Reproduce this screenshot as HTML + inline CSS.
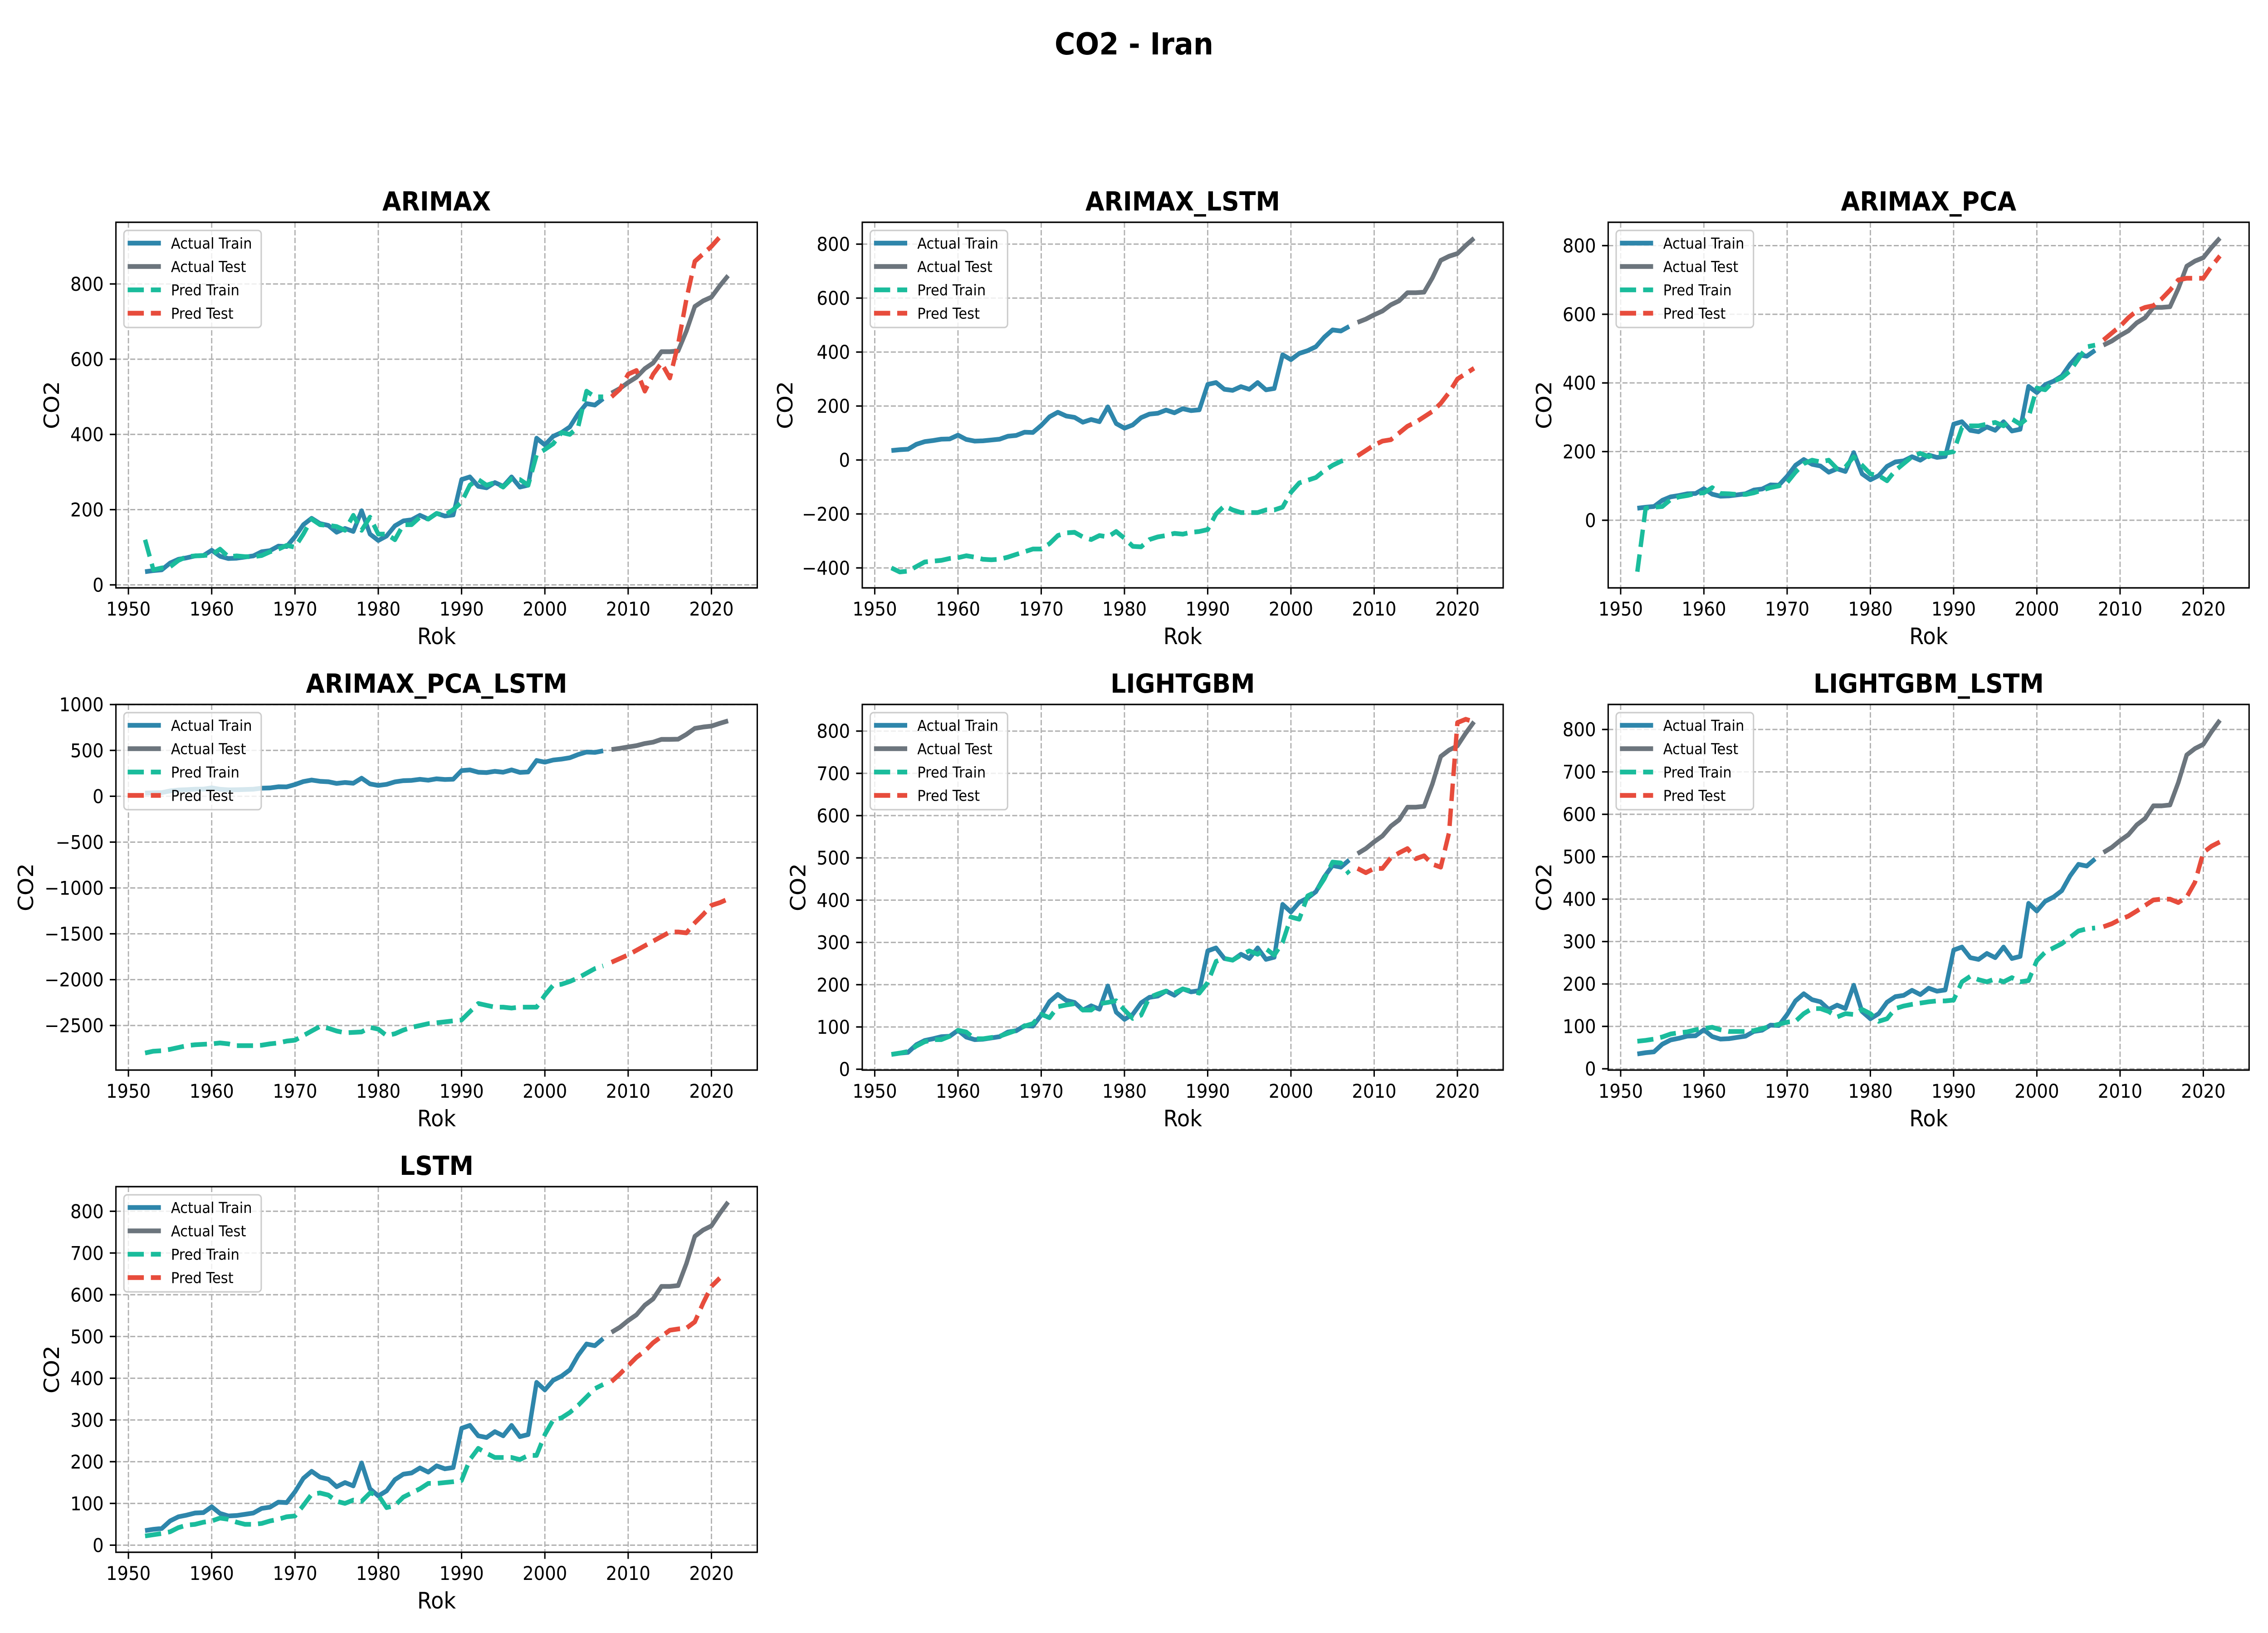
<!DOCTYPE html>
<html><head><meta charset="utf-8"><title>CO2 - Iran</title>
<style>html,body{margin:0;padding:0;background:#fff;width:100%;height:100%;overflow:hidden}svg{display:block;width:100vw;height:100vh;position:absolute;left:0;top:0}text{font-family:"DejaVu Sans","Liberation Sans",sans-serif}</style>
</head><body>
<svg id="fig" xmlns="http://www.w3.org/2000/svg" viewBox="0 0 5400 3600" preserveAspectRatio="none">
<rect width="5400" height="3600" fill="#fff"/>
<text x="2700" y="120" text-anchor="middle" font-size="67" font-weight="bold">CO2 - Iran</text>
</svg>
<script>
const trainYears = [1952,1953,1954,1955,1956,1957,1958,1959,1960,1961,1962,1963,1964,1965,1966,1967,1968,1969,1970,1971,1972,1973,1974,1975,1976,1977,1978,1979,1980,1981,1982,1983,1984,1985,1986,1987,1988,1989,1990,1991,1992,1993,1994,1995,1996,1997,1998,1999,2000,2001,2002,2003,2004,2005,2006,2007];
const testYears = [2008,2009,2010,2011,2012,2013,2014,2015,2016,2017,2018,2019,2020,2021,2022];
const actualTrain = [35,38,40,58,68,72,77,78,92,76,70,71,74,77,88,91,103,102,128,160,177,163,158,140,150,142,197,135,118,130,157,170,173,185,175,190,183,186,280,287,262,258,272,262,287,260,265,390,372,395,405,420,455,482,478,495];
const actualTest = [510,522,538,552,575,590,620,620,622,675,740,755,765,795,822];
const xTicks = [1950,1960,1970,1980,1990,2000,2010,2020];
const modelNames = ["ARIMAX","ARIMAX_LSTM","ARIMAX_PCA","ARIMAX_PCA_LSTM","LIGHTGBM","LIGHTGBM_LSTM","LSTM"];
const predTrainARIMAX = [120,40,45,48,65,75,77,78,80,95,75,77,75,75,78,88,95,105,100,135,175,160,158,155,145,185,145,180,135,135,120,160,160,180,175,190,185,200,220,265,280,265,272,260,282,280,265,345,360,375,405,400,420,515,500,500];
const predTestARIMAX = [500,520,560,570,515,560,590,550,640,760,860,880,900,925];
const predTrainARIMAX_LSTM = [-400,-415,-412,-395,-378,-375,-372,-365,-362,-355,-360,-368,-370,-368,-360,-350,-340,-330,-330,-310,-280,-270,-268,-285,-295,-280,-285,-265,-290,-320,-322,-295,-285,-280,-272,-275,-268,-265,-258,-200,-170,-185,-195,-195,-195,-185,-185,-175,-120,-85,-75,-65,-40,-20,-5,5];
const predTestARIMAX_LSTM = [15,35,55,70,75,100,125,140,160,180,210,250,300,320,340];
const predTrainARIMAX_PCA = [-150,35,38,40,60,68,72,78,80,95,78,77,75,75,80,88,95,100,110,140,165,175,170,175,150,155,185,160,135,130,115,145,165,185,195,185,195,195,200,270,275,275,280,285,275,295,280,300,385,380,405,415,435,470,505,510];
const predTestARIMAX_PCA = [525,545,565,590,610,620,625,645,670,700,705,705,705,740,770];
const predTrainARIMAX_PCA_LSTM = [-2800,-2780,-2775,-2760,-2740,-2720,-2710,-2705,-2700,-2690,-2700,-2720,-2720,-2720,-2715,-2700,-2690,-2670,-2660,-2610,-2560,-2510,-2530,-2560,-2580,-2575,-2570,-2520,-2540,-2610,-2590,-2550,-2520,-2500,-2480,-2470,-2460,-2450,-2440,-2350,-2260,-2280,-2300,-2300,-2310,-2300,-2300,-2300,-2170,-2060,-2050,-2020,-1980,-1930,-1880,-1850];
const predTestARIMAX_PCA_LSTM = [-1810,-1770,-1730,-1680,-1630,-1580,-1530,-1480,-1480,-1490,-1380,-1290,-1190,-1160,-1120];
const predTrainLIGHTGBM = [35,38,42,55,65,70,70,78,92,88,72,72,75,78,85,92,102,108,130,122,148,152,155,140,140,155,158,162,140,120,128,170,178,185,180,190,185,180,205,255,262,258,270,280,272,285,270,300,360,355,410,420,450,490,488,462];
const predTestLIGHTGBM = [475,465,475,475,500,512,522,498,505,485,478,560,820,828,822];
const predTrainLIGHTGBM_LSTM = [65,67,70,75,82,85,87,92,95,98,92,88,88,88,90,95,100,105,110,112,130,142,142,135,122,130,128,140,130,112,118,142,148,152,155,158,160,160,162,205,218,210,205,212,205,215,205,208,255,275,285,295,310,325,330,332];
const predTestLIGHTGBM_LSTM = [335,342,352,360,372,385,398,400,400,392,405,440,510,525,535];
const predTrainLSTM = [22,25,28,32,42,48,50,55,58,65,62,55,50,50,52,58,62,68,70,95,122,125,120,105,100,108,105,125,120,90,95,115,125,135,148,148,150,152,155,205,232,220,210,210,210,205,215,215,265,300,305,318,335,355,375,385];
const predTestLSTM = [392,410,430,450,465,485,500,515,518,520,535,580,620,640];
const yTicksA = [0,200,400,600,800];
const yTicksB = [-400,-200,0,200,400,600,800];
const yTicksC = [-2500,-2000,-1500,-1000,-500,0,500,1000];
const yTicksD = [0,100,200,300,400,500,600,700,800];

const NS = "http://www.w3.org/2000/svg";
const svg = document.getElementById("fig");
function el(tag, attrs, parent) {
  const e = document.createElementNS(NS, tag);
  for (const k in attrs) e.setAttribute(k, attrs[k]);
  (parent || svg).appendChild(e);
  return e;
}
const COLS = [[276,1803],[2053,3579],[3829,5355]];
const ROWS = [[490,1296],[1553,2359],[2616,3422]];
const panels = [
  {name:modelNames[0], c:0, r:0, ylim:[-8,964], ticks:yTicksA, yl:124, pt:predTrainARIMAX, ps:predTestARIMAX},
  {name:modelNames[1], c:1, r:0, ylim:[-474,881], ticks:yTicksB, yl:1870, pt:predTrainARIMAX_LSTM, ps:predTestARIMAX_LSTM},
  {name:modelNames[2], c:2, r:0, ylim:[-197,868], ticks:yTicksA, yl:3677, pt:predTrainARIMAX_PCA, ps:predTestARIMAX_PCA},
  {name:modelNames[3], c:0, r:1, ylim:[-2986,1001], ticks:yTicksC, yl:62, pt:predTrainARIMAX_PCA_LSTM, ps:predTestARIMAX_PCA_LSTM},
  {name:modelNames[4], c:1, r:1, ylim:[-2,863], ticks:yTicksD, yl:1901, pt:predTrainLIGHTGBM, ps:predTestLIGHTGBM},
  {name:modelNames[5], c:2, r:1, ylim:[-3,859], ticks:yTicksD, yl:3677, pt:predTrainLIGHTGBM_LSTM, ps:predTestLIGHTGBM_LSTM},
  {name:modelNames[6], c:0, r:2, ylim:[-17,859], ticks:yTicksD, yl:124, pt:predTrainLSTM, ps:predTestLSTM}
];
const C_AT="#2E86AB", C_AS="#6C757D", C_PT="#1ABC9C", C_PS="#E74C3C";
const XMIN=1948.5, XMAX=2025.5;
function fmt(v){ return v<0 ? "\u2212"+Math.abs(v) : String(v); }

panels.forEach((p, i) => {
  const [x0,x1] = COLS[p.c], [y0,y1] = ROWS[p.r];
  const xS = v => x0 + (v-XMIN)/(XMAX-XMIN)*(x1-x0);
  const yS = v => y1 - (v-p.ylim[0])/(p.ylim[1]-p.ylim[0])*(y1-y0);
  const slug = p.name.toLowerCase().replace(/_/g,"-");
  const g = el("g", {});
  
  
  const cid = "clip"+i;
  const cp = el("clipPath", {id:cid}, g);
  el("rect", {x:x0, y:y0, width:x1-x0, height:y1-y0}, cp);
  const grid = el("g", {stroke:"#b0b0b0", "stroke-width":3, "stroke-dasharray":"12 5"}, g);
  
  
  xTicks.forEach(t => el("line", {x1:xS(t), x2:xS(t), y1:y0, y2:y1}, grid));
  p.ticks.forEach(t => el("line", {x1:x0, x2:x1, y1:yS(t), y2:yS(t)}, grid));
  function series(xs, ys, color, dashed, nm) {
    const d = xs.slice(0, ys.length).map((x,k) => (k?"L":"M")+xS(x).toFixed(1)+","+yS(ys[k]).toFixed(1)).join("");
    const path = el("path", {d:d, fill:"none", stroke:color, "stroke-width":10.4, "stroke-linejoin":"round", "clip-path":"url(#"+cid+")"}, g);
    if (dashed) path.setAttribute("stroke-dasharray","38.5 16.7");
    
    
  }
  series(trainYears, actualTrain, C_AT, false, 'actual-train-line');
  series(testYears, actualTest, C_AS, false, 'actual-test-line');
  series(trainYears, p.pt, C_PT, true, 'pred-train-line');
  series(testYears, p.ps, C_PS, true, 'pred-test-line');
  const sp = el("rect", {x:x0, y:y0, width:x1-x0, height:y1-y0, fill:"none", stroke:"#000", "stroke-width":3.3}, g);
  
  
  xTicks.forEach(t => {
    el("line", {x1:xS(t), x2:xS(t), y1:y1, y2:y1+14.6, stroke:"#000", "stroke-width":3.3}, g);
    const tx = el("text", {x:xS(t), y:y1+29+32, "text-anchor":"middle", "font-size":41.7}, g);
    tx.textContent = t;
    
    
  });
  p.ticks.forEach(t => {
    el("line", {x1:x0-14.6, x2:x0, y1:yS(t), y2:yS(t), stroke:"#000", "stroke-width":3.3}, g);
    const tx = el("text", {x:x0-29, y:yS(t)+15, "text-anchor":"end", "font-size":41.7}, g);
    tx.textContent = fmt(t);
    
    
  });
  const xl = el("text", {x:(x0+x1)/2, y:y1+124, "text-anchor":"middle", "font-size":50}, g);
  xl.textContent = "Rok";
  
  
  const ylab = el("text", {x:p.yl, y:(y0+y1)/2, "text-anchor":"middle", "dominant-baseline":"central", "font-size":50, transform:"rotate(-90 "+p.yl+" "+(y0+y1)/2+")"}, g);
  ylab.textContent = "CO2";
  
  
  const tt = el("text", {x:(x0+x1)/2, y:y0-26, "text-anchor":"middle", "font-size":58, "font-weight":"bold"}, g);
  tt.textContent = p.name;
  
  
  const lg = el("g", {}, g);
  
  
  el("rect", {x:x0+19, y:y0+18, width:327, height:214, rx:8, fill:"#fff", "fill-opacity":0.8, stroke:"#cccccc", "stroke-width":3.3}, lg);
  const labels = ["Actual Train","Actual Test","Pred Train","Pred Test"];
  const cols = [C_AT, C_AS, C_PT, C_PS];
  labels.forEach((lab, k) => {
    const cy = y0 + 46 + k*51.5;
    const ln = el("line", {x1:x0+28, x2:x0+107, y1:cy, y2:cy, stroke:cols[k], "stroke-width":10.4}, lg);
    if (k>=2) ln.setAttribute("stroke-dasharray","38.5 16.7");
    const tx = el("text", {x:x0+131, y:cy+12, "font-size":33}, lg);
    tx.textContent = lab;
    
    
  });
});
</script>
</body></html>
